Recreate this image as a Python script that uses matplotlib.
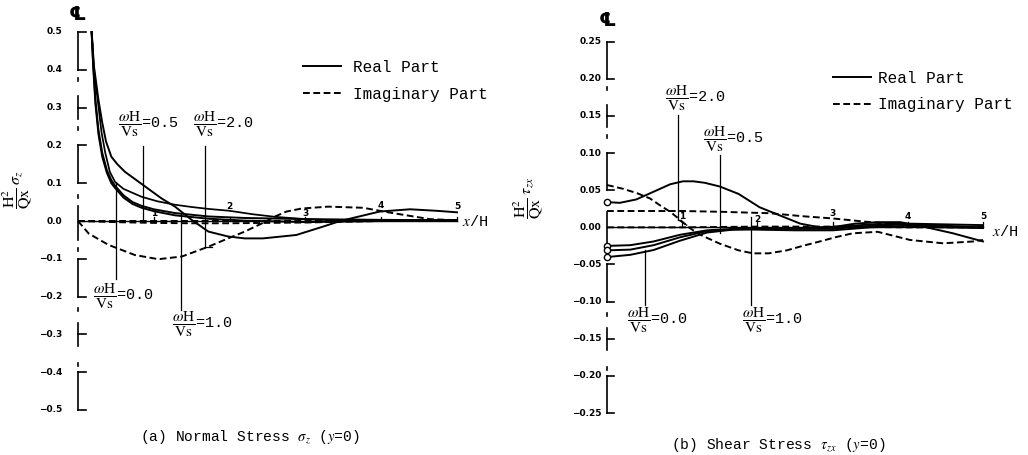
import matplotlib
matplotlib.use("Agg")
import matplotlib.pyplot as plt
from matplotlib.lines import Line2D

plt.rcParams['mathtext.fontset'] = 'stix'
MONO = 'Liberation Mono'
SANS = 'DejaVu Sans'

# ---------------- data : (a) normal stress sigma_z (y=0) ----------------
a_re1_x = [0.18, 0.21, 0.27, 0.32, 0.37, 0.44, 0.52, 0.62, 0.86, 1.10, 1.28, 1.50, 1.72, 1.98, 2.20,
           2.44, 2.88, 3.23, 3.46, 3.98, 4.38, 4.73, 5.00]
a_re1_y = [0.50, 0.41, 0.32, 0.26, 0.21, 0.17, 0.15, 0.13, 0.095, 0.06, 0.038, 0.003, -0.028, -0.041,
           -0.046, -0.046, -0.037, -0.015, 0.0, 0.025, 0.031, 0.027, 0.023]
a_re2_x = [0.18, 0.21, 0.26, 0.31, 0.36, 0.42, 0.49, 0.60, 0.84, 1.05, 1.28, 1.50, 1.72, 2.00, 2.30,
           2.60, 3.00, 3.50, 4.00, 4.50, 5.00]
a_re2_y = [0.50, 0.40, 0.32, 0.235, 0.18, 0.13, 0.103, 0.085, 0.064, 0.052, 0.043, 0.037, 0.032,
           0.027, 0.018, 0.011, 0.005, 0.001, 0.001, 0.002, 0.003]
a_re3_x = [0.18, 0.20, 0.23, 0.27, 0.32, 0.38, 0.44, 0.49, 0.60, 0.72, 0.84, 1.00, 1.28, 1.72, 2.20,
           3.00, 4.00, 5.00]
a_re3_y = [0.50, 0.42, 0.32, 0.24, 0.18, 0.135, 0.108, 0.093, 0.068, 0.050, 0.040, 0.031, 0.021,
           0.012, 0.008, 0.005, 0.003, 0.002]
a_re4_y = [0.50, 0.41, 0.31, 0.23, 0.17, 0.128, 0.100, 0.087, 0.062, 0.045, 0.035, 0.026, 0.015,
           0.006, 0.001, -0.003, 0.000, 0.001]
a_im1_x = [0.0, 0.14, 0.40, 0.75, 1.06, 1.37, 1.72, 1.98, 2.20, 2.44, 2.60, 2.75, 2.95, 3.30, 3.76,
           4.12, 4.64, 5.00]
a_im1_y = [0.0, -0.033, -0.063, -0.090, -0.101, -0.094, -0.068, -0.046, -0.028, -0.005, 0.012,
           0.025, 0.033, 0.038, 0.035, 0.022, 0.005, 0.002]
a_im2_x = [0.0, 0.5, 1.0, 1.5, 2.0, 2.5, 3.0, 3.5, 4.0, 4.5, 5.0]
a_im2_y = [0.0, -0.003, -0.005, -0.006, -0.006, -0.005, -0.004, -0.002, 0.0, 0.001, 0.001]
a_im3_y = [0.0, 0.0, 0.0, 0.0, 0.0, 0.0, 0.0, 0.0, 0.0, 0.0, 0.0]

# ---------------- data : (b) shear stress tau_zx (y=0) ----------------
b_re1_x = [0.0, 0.17, 0.39, 0.62, 0.84, 1.01, 1.15, 1.30, 1.50, 1.75, 2.03, 2.30, 2.57, 2.83, 3.05,
           3.30, 3.60, 3.90, 4.25, 4.60, 5.00]
b_re1_y = [0.034, 0.033, 0.0376, 0.048, 0.058, 0.062, 0.062, 0.060, 0.055, 0.045, 0.027, 0.016,
           0.005, 0.0, 0.001, 0.005, 0.007, 0.007, 0.0, -0.008, -0.019]
b_re_x = [0.0, 0.31, 0.62, 0.97, 1.33, 1.68, 1.94, 2.50, 3.00, 3.50, 4.00, 4.50, 5.00]
b_re2_y = [-0.025, -0.024, -0.019, -0.010, -0.004, -0.002, -0.001, -0.001, 0.000, 0.004, 0.005,
           0.004, 0.003]
b_re3_y = [-0.031, -0.030, -0.024, -0.0134, -0.005, -0.003, -0.002, -0.002, -0.002, 0.002, 0.004,
           0.002, 0.000]
b_re4_y = [-0.040, -0.037, -0.0305, -0.018, -0.007, -0.003, -0.003, -0.004, -0.004, 0.000, 0.002,
           0.000, -0.001]
b_im1_x = [0.0, 0.21, 0.40, 0.57, 0.70, 0.84, 0.95, 1.10, 1.24, 1.50, 1.75, 1.94, 2.15, 2.39, 2.60,
           2.83, 3.05, 3.27, 3.60, 4.03, 4.47, 4.87, 5.00]
b_im1_y = [0.057, 0.052, 0.046, 0.039, 0.030, 0.021, 0.012, -0.001, -0.010, -0.022, -0.031, -0.035,
           -0.035, -0.031, -0.025, -0.019, -0.013, -0.008, -0.006, -0.017, -0.0215, -0.019, -0.017]
b_im2_x = [0.0, 0.5, 1.0, 1.5, 2.17, 2.6, 3.0, 3.4, 3.72, 4.16, 4.6, 5.0]
b_im2_y = [0.022, 0.022, 0.022, 0.021, 0.019, 0.015, 0.012, 0.008, 0.005, 0.003, 0.001, 0.0]
b_im3_x = [0.0, 1.0, 2.0, 3.0, 4.0, 5.0]
b_im3_y = [0.0, 0.0, 0.001, 0.001, 0.0, 0.0]

x_ticks = [1, 2, 3, 4, 5]
a_yticks = [0.5, 0.4, 0.3, 0.2, 0.1, 0.0, -0.1, -0.2, -0.3, -0.4, -0.5]
a_ytick_labels = ['0.5', '0.4', '0.3', '0.2', '0.1', '0.0', '\u22120.1', '\u22120.2', '\u22120.3',
                  '\u22120.4', '\u22120.5']
b_yticks = [0.25, 0.20, 0.15, 0.10, 0.05, 0.0, -0.05, -0.10, -0.15, -0.20, -0.25]
b_ytick_labels = ['0.25', '0.20', '0.15', '0.10', '0.05', '0.00', '\u22120.05', '\u22120.10',
                  '\u22120.15', '\u22120.20', '\u22120.25']
freq_labels = ['0.0', '0.5', '1.0', '2.0']

# ---------------- figure ----------------
W, H = 1028, 455
fig = plt.figure(figsize=(W / 100, H / 100), dpi=100)
fig.patch.set_facecolor('white')

axA = fig.add_axes([78 / W, (H - 410) / H, (457 - 78) / W, (410 - 32) / H])
axA.set_xlim(0, 5)
axA.set_ylim(-0.5, 0.5)
axB = fig.add_axes([607 / W, (H - 413) / H, (983 - 607) / W, (413 - 41.7) / H])
axB.set_xlim(0, 5)
axB.set_ylim(-0.25, 0.25)
for ax in (axA, axB):
    ax.axis('off')

LW = 1.4
DASH = (0, (3.5, 1.8))
K = dict(color='black', clip_on=False)


def draw_axis(ax, step, ticks, labels, lab_x, tick_len, tick_pos, tick_h):
    s = step
    segs = [(s, 2 * s), (4 * s, 5 * s), (-2 * s, -s), (-5 * s, -4 * s),
            (2.7 * s, 3.3 * s), (-3.3 * s, -2.7 * s), (-0.5 * s, 0.4 * s)]
    for a, b in segs:
        ax.plot([0, 0], [a, b], lw=1.2, **K)
    for d in [2.45 * s, 3.75 * s, -2.35 * s, -3.8 * s, 0.65 * s, -0.75 * s]:
        ax.plot([0, 0], [d - 0.04 * s, d + 0.04 * s], lw=1.2, **K)
    for k in [1, 2, 3, 4, 5, -1, -2, -3, -4, -5]:
        ax.plot([0, tick_len], [k * s, k * s], lw=1.2, **K)
    for t, l in zip(ticks, labels):
        ax.text(lab_x, t, l, ha='right', va='center', fontsize=6.5, fontweight='bold',
                family=SANS, clip_on=False)
    # x axis
    ax.plot([0, 5], [0, 0], lw=1.0, **K)
    for xt, yh in zip(x_ticks, tick_pos):
        ax.plot([xt, xt], [0, tick_h], lw=0.9, **K)
        ax.text(xt, yh, str(xt), ha='center', va='bottom', fontsize=6.5, fontweight='bold',
                family=SANS, clip_on=False)


draw_axis(axA, 0.1, a_yticks, a_ytick_labels, -0.21, 0.11,
          [0.008, 0.026, 0.008, 0.030, 0.026], 0.01)
draw_axis(axB, 0.05, b_yticks, b_ytick_labels, -0.07, 0.09,
          [0.008, 0.005, 0.012, 0.008, 0.008], 0.007)

# ---- curves (a)
axA.plot(a_re1_x, a_re1_y, lw=LW, **K)
axA.plot(a_re2_x, a_re2_y, lw=LW * 0.9, **K)
axA.plot(a_re3_x, a_re3_y, lw=LW, **K)
axA.plot(a_re3_x, a_re4_y, lw=LW, **K)
axA.plot(a_im1_x, a_im1_y, lw=LW, ls=DASH, **K)
axA.plot(a_im2_x, a_im2_y, lw=LW, ls=DASH, **K)
axA.plot(a_im2_x, a_im3_y, lw=LW, ls=DASH, **K)

# ---- curves (b)
axB.plot(b_re1_x, b_re1_y, lw=LW, **K)
for yy in (b_re2_y, b_re3_y, b_re4_y):
    axB.plot(b_re_x, yy, lw=LW, **K)
for yy0 in (b_re1_y[0], b_re2_y[0], b_re3_y[0], b_re4_y[0]):
    axB.plot([0], [yy0], marker='o', ms=4.5, mfc='white', mec='black', mew=1.0, **K)
axB.plot(b_im1_x, b_im1_y, lw=LW, ls=DASH, **K)
axB.plot(b_im2_x, b_im2_y, lw=LW, ls=DASH, **K)
axB.plot(b_im3_x, b_im3_y, lw=LW, ls=DASH, **K)

# ---- frequency labels with leader lines
FR = r"$\dfrac{\omega\mathrm{H}}{\mathrm{Vs}}$"


def flabel(ax, tx, ty, lab, lx, ly0, ly1, kink=None):
    ax.text(tx, ty, FR + '=' + lab, ha='left', va='center', fontsize=11, family=MONO,
            clip_on=False)
    ax.plot([lx, lx], [ly0, ly1], lw=0.9, **K)
    if kink is not None:
        ax.plot([lx, kink[0]], [ly1, kink[1]], lw=0.9, **K)


flabel(axA, 0.53, 0.255, freq_labels[1], 0.86, 0.199, 0.003)
flabel(axA, 1.52, 0.255, freq_labels[3], 1.68, 0.199, -0.068, (1.77, -0.068))
flabel(axA, 0.20, -0.199, freq_labels[0], 0.50, -0.154, 0.103)
flabel(axA, 1.24, -0.273, freq_labels[2], 1.36, -0.235, 0.020)

flabel(axB, 0.77, 0.174, freq_labels[3], 0.95, 0.151, 0.010, (1.06, 0.003))
flabel(axB, 1.28, 0.118, freq_labels[1], 1.50, 0.098, -0.008)
flabel(axB, 0.27, -0.125, freq_labels[0], 0.50, -0.104, -0.030)
flabel(axB, 1.80, -0.125, freq_labels[2], 1.91, -0.104, 0.014)

# ---- axis titles
axA.text(5.07, 0.0, r"$x$/H", ha='left', va='center', fontsize=11, family=MONO, clip_on=False)
axB.text(5.12, -0.006, r"$x$/H", ha='left', va='center', fontsize=11, family=MONO, clip_on=False)
axA.text(0.0, 0.545, '\u2104', ha='center', va='center', fontsize=14, fontweight='bold',
         family=SANS, clip_on=False)
axB.text(0.0, 0.278, '\u2104', ha='center', va='center', fontsize=14, fontweight='bold',
         family=SANS, clip_on=False)
fig.text(17 / W, 1 - 190 / H, r"$\dfrac{\mathrm{H}^2}{\mathrm{Qx}}\;\sigma_z$", rotation=90,
         ha='center', va='center', fontsize=11.5)
fig.text(528 / W, 1 - 198 / H, r"$\dfrac{\mathrm{H}^2}{\mathrm{Qx}}\;\tau_{zx}$", rotation=90,
         ha='center', va='center', fontsize=11.5)

# ---- legends
handles = [Line2D([], [], color='black', lw=LW),
           Line2D([], [], color='black', lw=LW, ls=DASH)]
names = ['Real Part', 'Imaginary Part']
for ax, px, py, pad in ((axA, 303, 60, 0.75), (axB, 833, 71, 0.4)):
    bb = (px / W, 1 - py / H)
    ax.legend(handles, names, loc='upper left', bbox_to_anchor=bb,
              bbox_transform=fig.transFigure, frameon=False, borderpad=0, borderaxespad=0,
              handlelength=2.4, handletextpad=pad, labelspacing=0.72,
              prop={'family': MONO, 'size': 11.5})

# ---- captions
fig.text(250 / W, 1 - 437 / H, r"(a) Normal Stress $\sigma_z$ ($y$=0)", ha='center',
         va='center', fontsize=10.5, family=MONO)
fig.text(778 / W, 1 - 445 / H, r"(b) Shear Stress $\tau_{zx}$ ($y$=0)", ha='center',
         va='center', fontsize=10.5, family=MONO)

fig.savefig('out.png', dpi=100, facecolor='white')
